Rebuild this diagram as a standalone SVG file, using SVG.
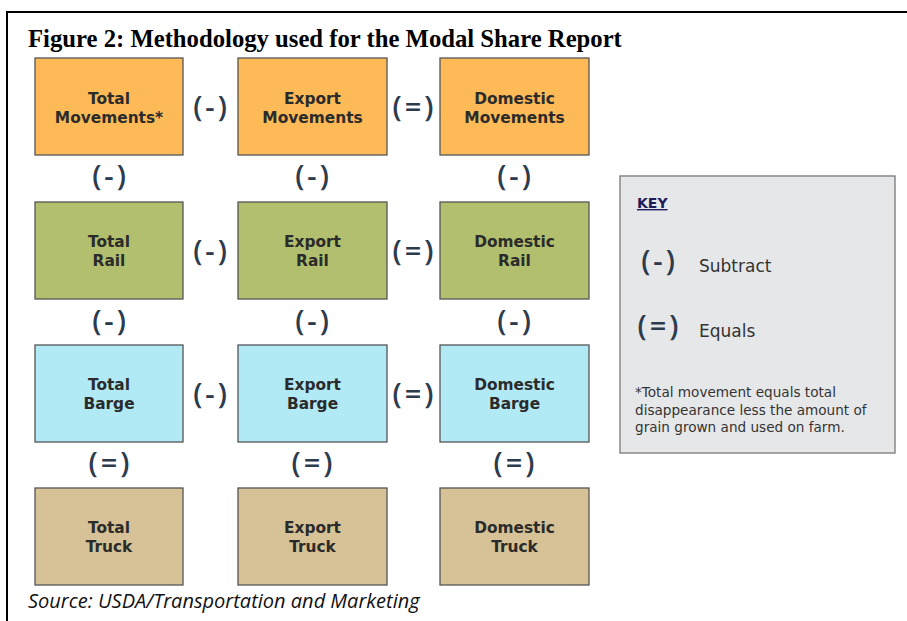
<svg xmlns="http://www.w3.org/2000/svg" width="907" height="621" viewBox="0 0 907 621">
  <style>
    .box { stroke: #555; stroke-width: 1.3; }
    .orange { fill: #FDBA57; }
    .green { fill: #B2BF6E; }
    .cyan { fill: #B1E9F5; }
    .tan { fill: #D6C296; }
    .lbl { font-family: "DejaVu Sans", Verdana, sans-serif; font-weight: bold; font-size: 15.4px; fill: #2b2b2b; text-anchor: middle; }
    .op { font-family: "Open Sans", "Liberation Sans", sans-serif; font-weight: 600; font-size: 29px; fill: #2d3b4e; text-anchor: middle; letter-spacing: 3px; }
    .key { font-family: "DejaVu Sans", Verdana, sans-serif; fill: #333; }
  </style>

  <!-- frame -->
  <path d="M7 621 V12 H907" fill="none" stroke="#000" stroke-width="2"/>

  <text x="28" y="47" font-family="Liberation Serif, Times New Roman, serif" font-weight="bold" font-size="24.7px" fill="#000">Figure 2: Methodology used for the Modal Share Report</text>

  <!-- row 1: movements -->
  <g id="total-movements">
    <rect class="box orange" x="35" y="58" width="148" height="97"/>
    <text class="lbl" x="109" y="104">Total</text>
    <text class="lbl" x="109" y="123">Movements*</text>
  </g>
  <g id="export-movements">
    <rect class="box orange" x="238" y="58" width="149" height="97"/>
    <text class="lbl" x="312.5" y="104">Export</text>
    <text class="lbl" x="312.5" y="123">Movements</text>
  </g>
  <g id="domestic-movements">
    <rect class="box orange" x="440" y="58" width="149" height="97"/>
    <text class="lbl" x="514.5" y="104">Domestic</text>
    <text class="lbl" x="514.5" y="123">Movements</text>
  </g>

  <!-- row 2: rail -->
  <g id="total-rail">
    <rect class="box green" x="35" y="202" width="148" height="97"/>
    <text class="lbl" x="109" y="247">Total</text>
    <text class="lbl" x="109" y="266">Rail</text>
  </g>
  <g id="export-rail">
    <rect class="box green" x="238" y="202" width="149" height="97"/>
    <text class="lbl" x="312.5" y="247">Export</text>
    <text class="lbl" x="312.5" y="266">Rail</text>
  </g>
  <g id="domestic-rail">
    <rect class="box green" x="440" y="202" width="149" height="97"/>
    <text class="lbl" x="514.5" y="247">Domestic</text>
    <text class="lbl" x="514.5" y="266">Rail</text>
  </g>

  <!-- row 3: barge -->
  <g id="total-barge">
    <rect class="box cyan" x="35" y="345" width="148" height="97"/>
    <text class="lbl" x="109" y="390">Total</text>
    <text class="lbl" x="109" y="409">Barge</text>
  </g>
  <g id="export-barge">
    <rect class="box cyan" x="238" y="345" width="149" height="97"/>
    <text class="lbl" x="312.5" y="390">Export</text>
    <text class="lbl" x="312.5" y="409">Barge</text>
  </g>
  <g id="domestic-barge">
    <rect class="box cyan" x="440" y="345" width="149" height="97"/>
    <text class="lbl" x="514.5" y="390">Domestic</text>
    <text class="lbl" x="514.5" y="409">Barge</text>
  </g>

  <!-- row 4: truck -->
  <g id="total-truck">
    <rect class="box tan" x="35" y="488" width="148" height="97"/>
    <text class="lbl" x="109" y="533">Total</text>
    <text class="lbl" x="109" y="552">Truck</text>
  </g>
  <g id="export-truck">
    <rect class="box tan" x="238" y="488" width="149" height="97"/>
    <text class="lbl" x="312.5" y="533">Export</text>
    <text class="lbl" x="312.5" y="552">Truck</text>
  </g>
  <g id="domestic-truck">
    <rect class="box tan" x="440" y="488" width="149" height="97"/>
    <text class="lbl" x="514.5" y="533">Domestic</text>
    <text class="lbl" x="514.5" y="552">Truck</text>
  </g>

  <!-- operators between boxes -->
  <g id="operators">
    <text class="op" x="211.5" y="117">(-)</text>
    <text class="op" x="414.5" y="117">(=)</text>
    <text class="op" x="211.5" y="261">(-)</text>
    <text class="op" x="414.5" y="261">(=)</text>
    <text class="op" x="211.5" y="404">(-)</text>
    <text class="op" x="414.5" y="404">(=)</text>

    <text class="op" x="110.5" y="186">(-)</text>
    <text class="op" x="313.5" y="186">(-)</text>
    <text class="op" x="515.5" y="186">(-)</text>
    <text class="op" x="110.5" y="331">(-)</text>
    <text class="op" x="313.5" y="331">(-)</text>
    <text class="op" x="515.5" y="331">(-)</text>
    <text class="op" x="110.5" y="473">(=)</text>
    <text class="op" x="313.5" y="473">(=)</text>
    <text class="op" x="515.5" y="473">(=)</text>
  </g>

  <!-- legend -->
  <g id="key">
    <rect x="620" y="176" width="275" height="277" fill="#E6E7E9" stroke="#888" stroke-width="1.5"/>
    <text x="637" y="208" font-family="DejaVu Sans, Verdana, sans-serif" font-weight="bold" font-size="14px" fill="#1d1d5c" text-decoration="underline">KEY</text>
    <text class="op" x="659.5" y="271">(-)</text>
    <text class="key" x="699" y="272" font-size="17px">Subtract</text>
    <text class="op" x="659.5" y="336">(=)</text>
    <text class="key" x="699" y="337" font-size="17px">Equals</text>
    <text class="key" font-size="13.6px" fill="#444">
      <tspan x="635" y="397">*Total movement equals total</tspan>
      <tspan x="635" y="414.5">disappearance less the amount of</tspan>
      <tspan x="635" y="432">grain grown and used on farm.</tspan>
    </text>
  </g>

  <text x="28" y="608" font-family="Open Sans, Liberation Sans, sans-serif" font-style="italic" font-size="20px" fill="#111">Source: USDA/Transportation and Marketing</text>
</svg>
